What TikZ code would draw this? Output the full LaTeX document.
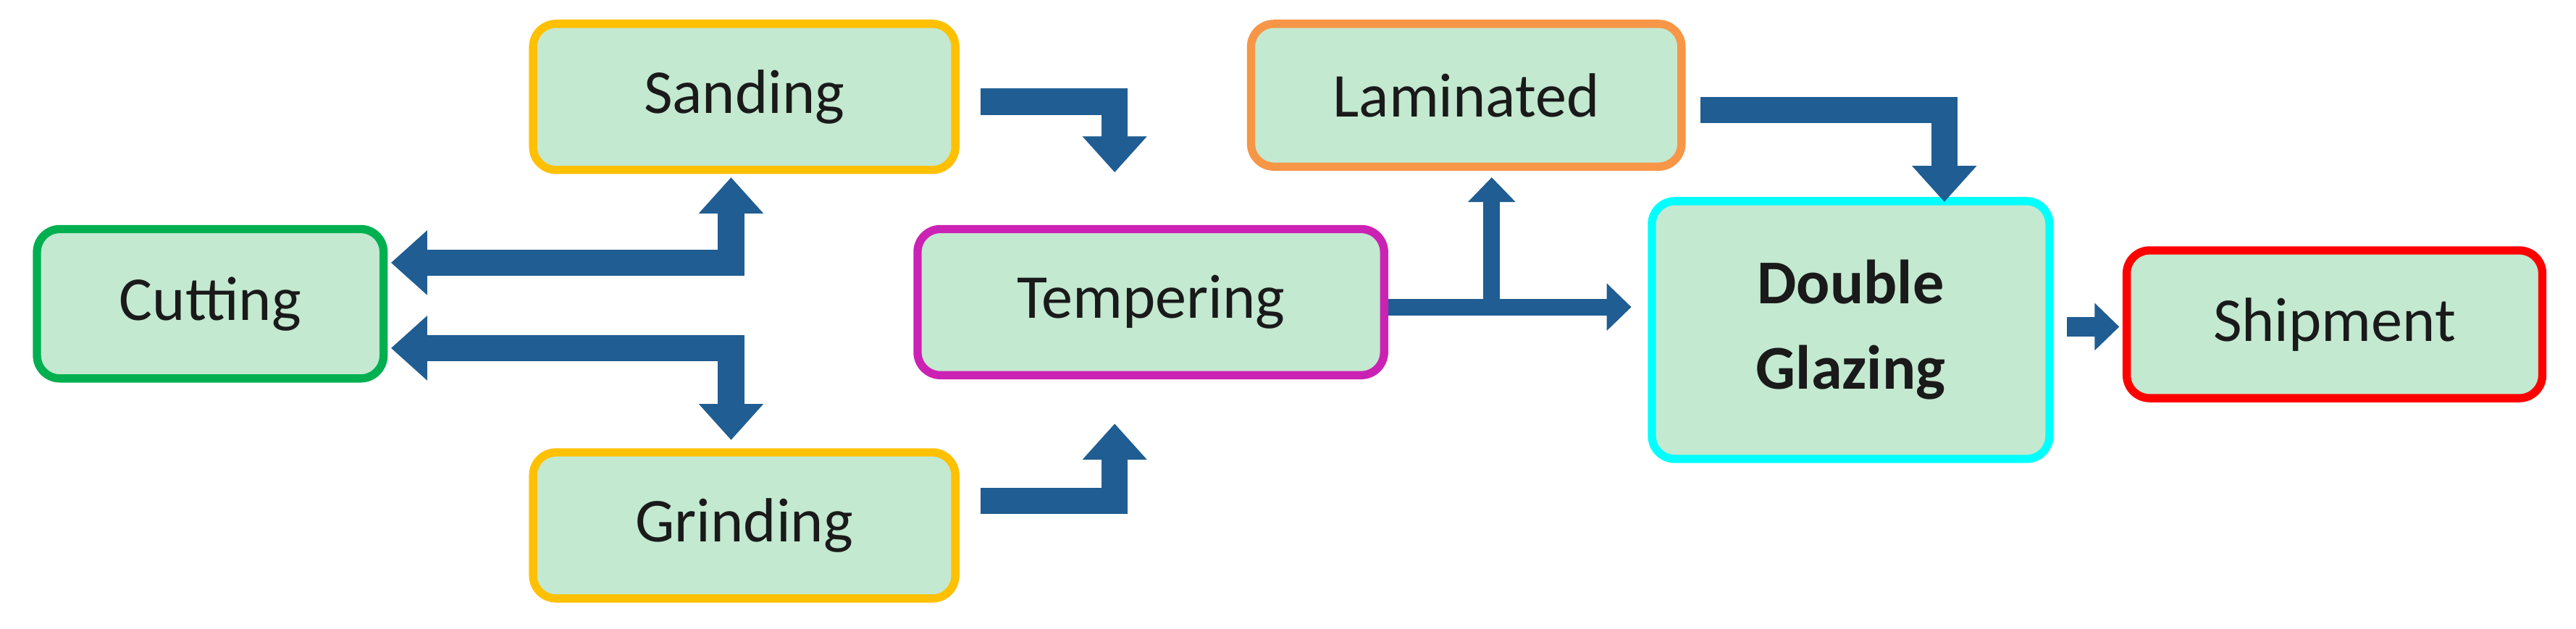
\documentclass[tikz,border=0pt]{standalone}
\usepackage{fontspec}
\setmainfont{Carlito}
\usetikzlibrary{arrows.meta}
\definecolor{boxfill}{HTML}{C3E9D0}
\definecolor{arrblue}{HTML}{1F5D92}
\definecolor{cyel}{HTML}{FFC000}
\definecolor{cgrn}{HTML}{00B050}
\definecolor{cmag}{HTML}{CC22B4}
\definecolor{corg}{HTML}{F79646}
\definecolor{ccya}{HTML}{00FFFF}
\definecolor{cred}{HTML}{FF0000}
\definecolor{txt}{HTML}{1A1A1A}
\tikzset{
  box/.style={draw=#1, line width=5pt, fill=boxfill, rounded corners=14pt, inner sep=0pt,
    text=txt, font=\fontsize{38}{52}\selectfont, align=center},
  barrow/.style={draw=arrblue, line width=16pt, line join=miter},
  tarrow/.style={draw=arrblue, line width=10pt, line join=miter},
  bhead/.tip={Triangle[width=38pt,length=22pt]},
  thead/.tip={Triangle[width=28pt,length=15pt]},
}
\begin{document}
\begin{tikzpicture}[x=1pt,y=1pt]
\useasboundingbox (0,0) rectangle (1568,383);
\node[box=cgrn, minimum width=211pt, minimum height=91pt] (cut) at (128,198) {Cutting};
\node[box=cyel, minimum width=257pt, minimum height=89pt] (sand) at (453,324) {Sanding};
\node[box=cyel, minimum width=257pt, minimum height=89pt] (grind) at (453,63) {Grinding};
\node[box=cmag, minimum width=284pt, minimum height=89pt] (temp) at (700.5,199) {Tempering};
\node[box=corg, minimum width=262pt, minimum height=87pt] (lam) at (892.5,325) {Laminated};
\node[box=ccya, minimum width=242pt, minimum height=157pt, font=\fontsize{38}{52}\selectfont\bfseries] (dg) at (1126.5,182) {Double\\Glazing};
\node[box=cred, minimum width=253pt, minimum height=90pt] (ship) at (1421,185.5) {Shipment};

\coordinate (j) at ([xshift=63pt,yshift=-3pt]temp.east);
\coordinate (d) at ([xshift=8pt,yshift=2pt]dg.east);

\draw[barrow, {bhead}-{bhead}] ([xshift=2pt,yshift=25pt]cut.east) -| ([xshift=-8pt,yshift=-2pt]sand.south);
\draw[barrow, {bhead}-{bhead}] ([xshift=2pt,yshift=-27pt]cut.east) -| ([xshift=-8pt,yshift=5pt]grind.north);
\draw[barrow, -{bhead}] ([xshift=13pt,yshift=-3pt]sand.east) -| ([xshift=-22pt,yshift=32pt]temp.north);
\draw[barrow, -{bhead}] ([xshift=13pt,yshift=15pt]grind.east) -| ([xshift=-22pt,yshift=-27pt]temp.south);
\draw[tarrow, -{thead}] ([yshift=-3pt]temp.east) -- ([xshift=-10pt]dg.west |- j);
\draw[tarrow, -{thead}] (j) -- ([yshift=-4pt]lam.south -| j);
\draw[barrow, -{bhead}] ([xshift=9pt,yshift=-9pt]lam.east) -| ([xshift=57pt,yshift=-3pt]dg.north);
\draw[line width=12pt, draw=arrblue, -{thead}] (d) -- ([xshift=-2pt]ship.west |- d);
\end{tikzpicture}
\end{document}
